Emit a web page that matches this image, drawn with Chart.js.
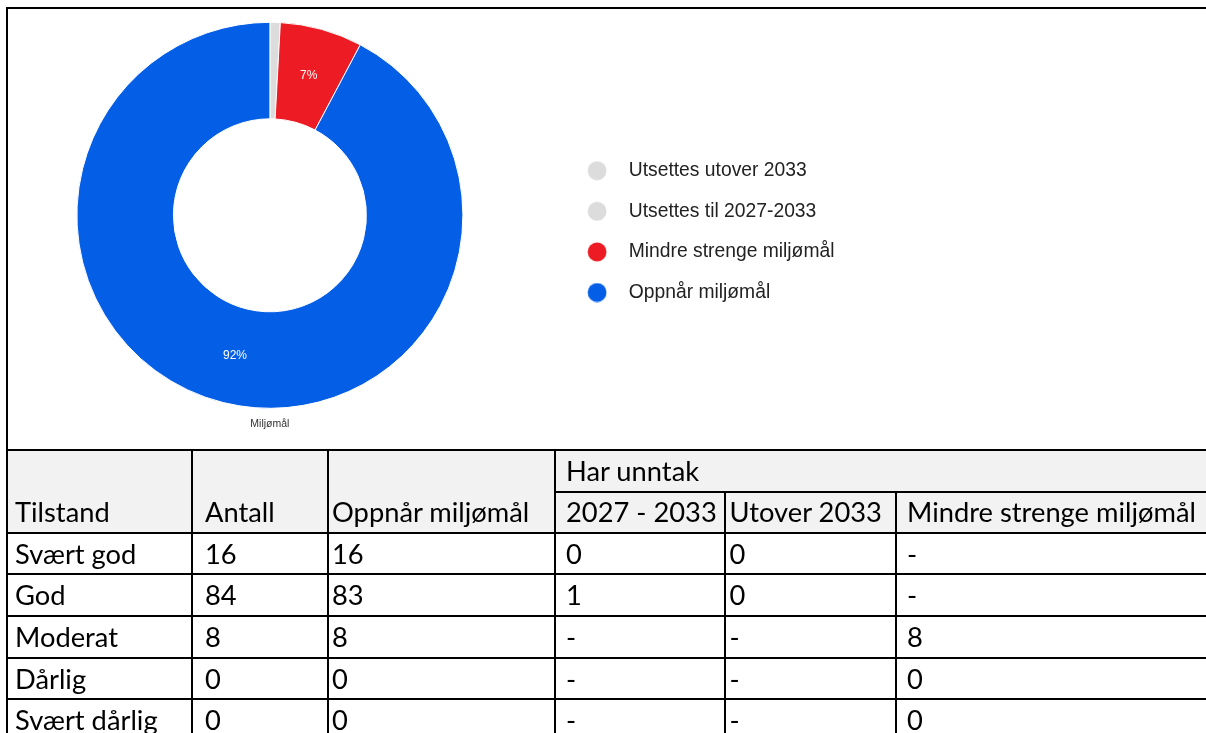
<!DOCTYPE html>
<html>
<head>
<meta charset="utf-8">
<script src="https://cdn.jsdelivr.net/npm/chart.js@4.4.0/dist/chart.umd.min.js"></script>
<style>
  html, body { margin: 0; padding: 0; background: #fff; }
  body { width: 1206px; height: 733px; overflow: hidden; position: relative; }
  #frame { position: absolute; left: 6px; top: 7px; width: 1210px; height: 443px; border-top: 2px solid #000; border-left: 2px solid #000; box-sizing: border-box; }
  #chartBox { position: absolute; left: -14px; top: 10px; width: 880px; height: 440px; }
  #statusTable { position: absolute; left: 6px; top: 449px; border-collapse: collapse; table-layout: fixed; width: 1290px;
    font-family: Lato, "Open Sans", sans-serif; font-size: 27.3px; color: #000; }
  #statusTable th, #statusTable td { border: 2px solid #000; padding: 0; font-weight: normal; text-align: left;
    white-space: nowrap; overflow: hidden; vertical-align: middle; line-height: 32px; }
  #statusTable thead th { background: #f2f2f2; }
  #statusTable th.span2 { vertical-align: bottom; padding-bottom: 4px; }
  #statusTable tr { height: 41.7px; }
  #statusTable tr.sub { height: 41px; }
  .c1 { padding-left: 7px !important; }
  .c2 { padding-left: 12px !important; }
  .c3 { padding-left: 3px !important; }
  .c4 { padding-left: 10px !important; }
  .c5 { padding-left: 3.5px !important; }
  .c6 { padding-left: 10px !important; }
</style>
</head>
<body>
<div id="frame"></div>
<div id="chartBox"><canvas id="chart"></canvas></div>
<table id="statusTable">
  <colgroup>
    <col style="width:185px"><col style="width:136px"><col style="width:227px">
    <col style="width:170px"><col style="width:171px"><col style="width:401px">
  </colgroup>
  <thead>
    <tr>
      <th class="c1 span2" rowspan="2">Tilstand</th>
      <th class="c2 span2" rowspan="2">Antall</th>
      <th class="c3 span2" rowspan="2">Oppnår miljømål</th>
      <th class="c4" colspan="3">Har unntak</th>
    </tr>
    <tr class="sub">
      <th class="c4">2027 - 2033</th>
      <th class="c5">Utover 2033</th>
      <th class="c6">Mindre strenge miljømål</th>
    </tr>
  </thead>
  <tbody id="tableBody"></tbody>
</table>
<script>
// doughnut
const categories = ['Utsettes utover 2033', 'Utsettes til 2027-2033', 'Mindre strenge miljømål', 'Oppnår miljømål'];
const goalValues = [0, 1, 8, 107];
const sliceColors = ['#dcdcdc', '#dcdcdc', '#ed1c24', '#055ee6'];

// table
const tilstand = ['Svært god', 'God', 'Moderat', 'Dårlig', 'Svært dårlig'];
const antall = ['16', '84', '8', '0', '0'];
const oppnar = ['16', '83', '8', '0', '0'];
const unntak2027 = ['0', '1', '-', '-', '-'];
const unntakUtover = ['0', '0', '-', '-', '-'];
const mindreStrenge = ['-', '-', '8', '0', '0'];

const body = document.getElementById('tableBody');
tilstand.forEach((name, i) => {
  const tr = document.createElement('tr');
  [name, antall[i], oppnar[i], unntak2027[i], unntakUtover[i], mindreStrenge[i]].forEach((txt, c) => {
    const td = document.createElement('td');
    td.className = 'c' + (c + 1);
    td.textContent = txt;
    tr.appendChild(td);
  });
  body.appendChild(tr);
});

function dot(color) {
  const c = document.createElement('canvas');
  c.width = 20;
  c.height = 20;
  const g = c.getContext('2d');
  g.fillStyle = color;
  g.beginPath();
  g.arc(10, 10, 9.4, 0, Math.PI * 2);
  g.fill();
  return c;
}

// percent text inside the slices
const sliceLabels = {
  id: 'sliceLabels',
  afterDatasetsDraw(chart) {
    const ctx = chart.ctx;
    const meta = chart.getDatasetMeta(0);
    const data = chart.data.datasets[0].data;
    const total = data.reduce((a, b) => a + b, 0);
    ctx.save();
    ctx.font = '12px "Liberation Sans", Arial, sans-serif';
    ctx.fillStyle = '#ffffff';
    ctx.textAlign = 'center';
    ctx.textBaseline = 'middle';
    meta.data.forEach((arc, i) => {
      const share = data[i] / total;
      if (share < 0.05) return;
      const p = arc.tooltipPosition();
      ctx.fillText(Math.round(share * 100) + '%', p.x, p.y);
    });
    ctx.restore();
  }
};

new Chart(document.getElementById('chart'), {
  type: 'doughnut',
  data: {
    labels: categories,
    datasets: [{
      data: goalValues,
      backgroundColor: sliceColors,
      borderColor: '#ffffff',
      borderWidth: 1,
      radius: 193,
      cutout: '50%'
    }]
  },
  options: {
    responsive: true,
    maintainAspectRatio: false,
    animation: false,
    layout: { padding: { left: 0, top: 12.9, right: 32.2, bottom: 9.7 } },
    plugins: {
      tooltip: { enabled: false },
      title: {
        display: true,
        text: 'Miljømål',
        position: 'bottom',
        fullSize: false,
        color: '#333333',
        font: { size: 10.5, weight: 'normal', family: '"Liberation Sans", Arial, sans-serif' },
        padding: { top: 10, bottom: 10 }
      },
      legend: {
        position: 'right',
        maxWidth: 280,
        labels: {
          usePointStyle: true,
          pointStyleWidth: 44,
          padding: 21.3,
          color: '#222222',
          font: { size: 19.3, family: '"Liberation Sans", Arial, sans-serif' },
          generateLabels(chart) {
            const items = Chart.overrides.doughnut.plugins.legend.labels.generateLabels(chart);
            items.forEach(item => { item.pointStyle = dot(item.fillStyle); });
            return items;
          }
        }
      }
    }
  },
  plugins: [sliceLabels]
});
</script>
</body>
</html>
